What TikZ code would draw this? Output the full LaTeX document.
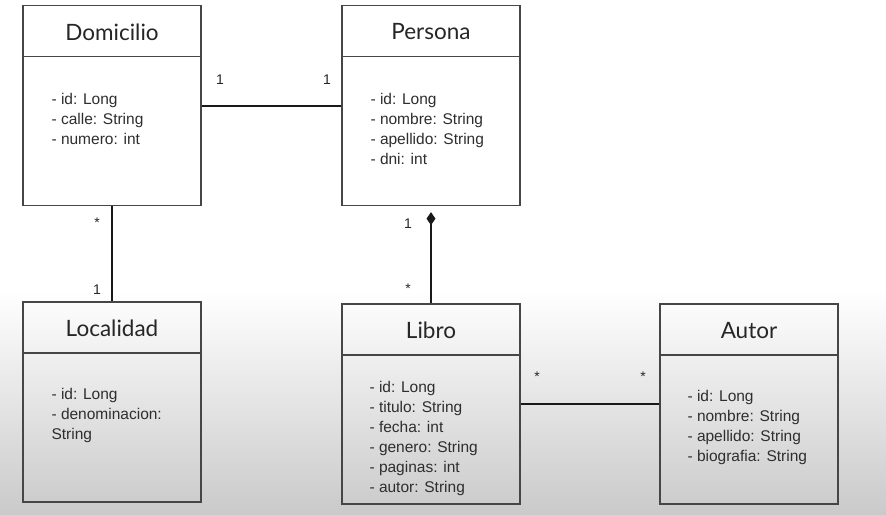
\documentclass[tikz,border=0pt]{standalone}
\usepackage{fontspec}
\setmainfont{Liberation Sans}
\newfontfamily\titlefont{Lato}
\usetikzlibrary{arrows.meta, positioning, calc}
\definecolor{boxgray}{RGB}{70,70,70}
\definecolor{bggray}{RGB}{202,202,202}

\begin{document}
\begin{tikzpicture}[x=1pt, y=-1pt,
    classbox/.style={draw=boxgray, line width=1.3pt, minimum width=178pt, minimum height=200pt, inner sep=0pt},
    classtitle/.style={font=\titlefont\fontsize{22.5}{26}\selectfont, text=black!85},
    attrs/.style={font=\fontsize{15.5}{20}\selectfont, align=left, anchor=north west, inner sep=0pt, text=black!82},
    link/.style={line width=2pt, black!90},
    mult/.style={font=\fontsize{14}{16}\selectfont, text=black!85}]
    % Background (screenshot gradient)
    \useasboundingbox (0,0) rectangle (886,514);
    \fill[white] (0,0) rectangle (886,514);
    \shade[top color=white, bottom color=bggray] (0,290) rectangle (886,514);

    % Classes
    \node[classbox] (domicilio) at (112,105.5) {};
    \node[classbox] (persona) at (431,105.5) {};
    \node[classbox] (localidad) at (112,402) {};
    \node[classbox] (libro) at (431,404) {};
    \node[classbox] (autor) at (749,404) {};

    % Title separators
    \foreach \c in {domicilio, persona, localidad, libro, autor} {
        \draw[boxgray, line width=1.3pt] ($(\c.north west)+(0,51.5)$) -- ($(\c.north east)+(0,51.5)$);
    }

    % Titles
    \node[classtitle] (domicilio-t) at ($(domicilio.north)+(0,27)$) {Domicilio};
    \node[classtitle] (persona-t) at ($(persona.north)+(0,27)$) {Persona};
    \node[classtitle] (localidad-t) at ($(localidad.north)+(0,27)$) {Localidad};
    \node[classtitle] (libro-t) at ($(libro.north)+(0,27)$) {Libro};
    \node[classtitle] (autor-t) at ($(autor.north)+(0,27)$) {Autor};

    % Attributes
    \node[attrs] (domicilio-a) at ($(domicilio.north west)+(29,88)$) {- id: Long\\- calle: String\\- numero: int};
    \node[attrs] (persona-a) at ($(persona.north west)+(29,88)$) {- id: Long\\- nombre: String\\- apellido: String\\- dni: int};
    \node[attrs] (localidad-a) at ($(localidad.north west)+(29,87)$) {- id: Long\\- denominacion:\\String};
    \node[attrs] (libro-a) at ($(libro.north west)+(28,78)$) {- id: Long\\- titulo: String\\- fecha: int\\- genero: String\\- paginas: int\\- autor: String};
    \node[attrs] (autor-a) at ($(autor.north west)+(28,87)$) {- id: Long\\- nombre: String\\- apellido: String\\- biografia: String};

    % Associations
    \draw[link] (domicilio.east) -- (persona.west);
    \draw[link] (domicilio.south) -- (localidad.north);
    \draw[link, {Diamond[length=13pt, width=9pt]}-, shorten <=6pt] (persona.south) -- (libro.north);
    \draw[link] (libro.east) -- (autor.west);

    % Multiplicities
    \node[mult] at (220,80) {1};
    \node[mult] at (327,80) {1};
    \node[mult] at (97,223) {*};
    \node[mult] at (97,290) {1};
    \node[mult] at (408,224) {1};
    \node[mult] at (408,289) {*};
    \node[mult] at (537,377) {*};
    \node[mult] at (643,377) {*};
\end{tikzpicture}
\end{document}
